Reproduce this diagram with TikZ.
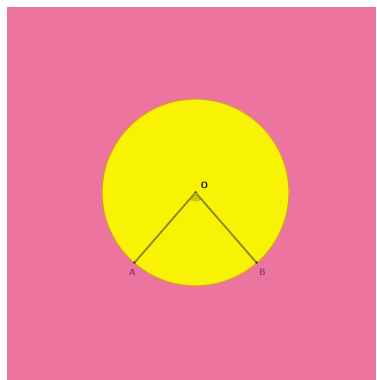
\documentclass[tikz,border=0pt]{standalone}
\usepackage{tikz}
\usetikzlibrary{positioning,calc}
\definecolor{bgpink}{HTML}{EE74A0}
\definecolor{disc}{HTML}{F8F204}
\definecolor{rim}{HTML}{DC9440}
\definecolor{chord}{HTML}{8C8A14}
\definecolor{plum}{HTML}{8A3A78}

\begin{document}
\begin{tikzpicture}[x=1pt,y=1pt,font=\sffamily\small\bfseries,
  pt/.style={circle,fill=black!75,inner sep=0pt,minimum size=3pt},
  lbl/.style={inner sep=1pt}]
\useasboundingbox (0,0) rectangle (376,380);
\fill[bgpink] (7,0) rectangle (376,373);
\draw[rim,fill=disc,line width=1.2pt] (195.5,187.5) circle (93.5);
% centre and the two points on the rim
\coordinate (c) at (195.5,187.5);
\node[pt] (O) at (c) {};
\node[pt] (A) at ($(c)+(229:93)$) {};
\node[pt] (B) at ($(c)+(311:93)$) {};
\fill[chord!40!disc] (c) -- ++(229:9) arc (229:311:9) -- cycle;
\draw[chord,line width=1.8pt] (A) -- (O) -- (B);
\node[lbl,above right=1pt and 3pt of O] (Olbl) {O};
\node[lbl,plum,below=4pt of A,xshift=-2pt] (Albl) {A};
\node[lbl,plum,below=4pt of B,xshift=6pt] (Blbl) {B};
\end{tikzpicture}
\end{document}
